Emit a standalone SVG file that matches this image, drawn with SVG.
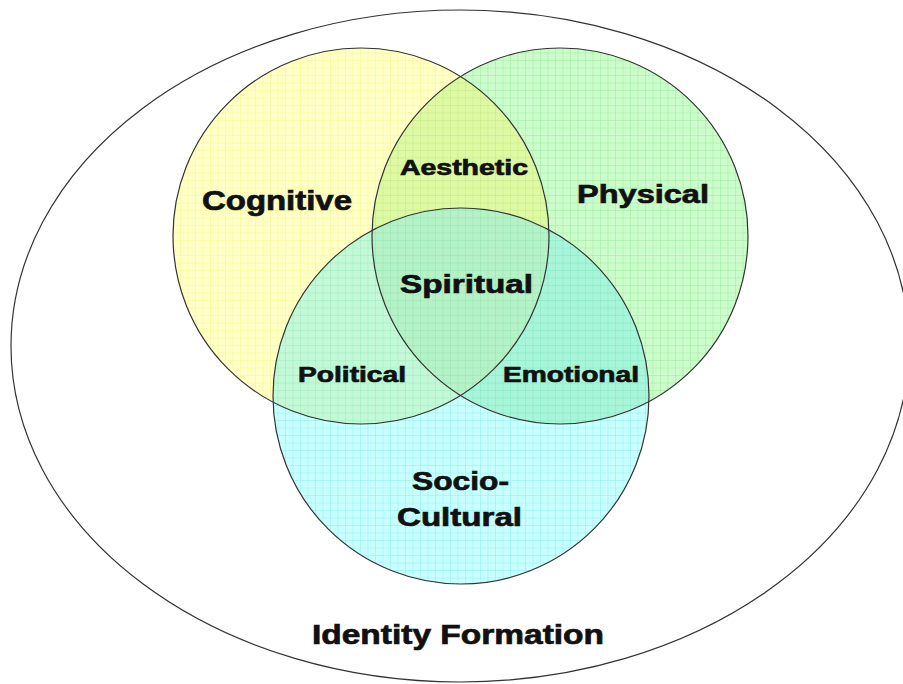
<svg xmlns="http://www.w3.org/2000/svg" width="903" height="684" viewBox="0 0 903 684">
<style>
.lbl{font-family:"Liberation Sans",Arial,sans-serif;font-weight:bold;fill:#111;stroke:#111;stroke-width:0.7}
.outline{fill:none;stroke:#333;stroke-width:1.2}
</style>
<defs>
<pattern id="pY" width="7.5" height="7.5" patternUnits="userSpaceOnUse"><rect width="7.5" height="7.5" fill="#ffffc8"/><path d="M0 0H7.5M0 0V7.5" stroke="#f8f888" stroke-width="1"/></pattern>
<pattern id="pG" width="7.5" height="7.5" patternUnits="userSpaceOnUse"><rect width="7.5" height="7.5" fill="#ccfccc"/><path d="M0 0H7.5M0 0V7.5" stroke="#9cec9c" stroke-width="1"/></pattern>
<pattern id="pC" width="7.5" height="7.5" patternUnits="userSpaceOnUse"><rect width="7.5" height="7.5" fill="#c8ffff"/><path d="M0 0H7.5M0 0V7.5" stroke="#90eef0" stroke-width="1"/></pattern>
<pattern id="pYG" width="7.5" height="7.5" patternUnits="userSpaceOnUse"><rect width="7.5" height="7.5" fill="#def9a4"/><path d="M0 0H7.5M0 0V7.5" stroke="#c2ea80" stroke-width="1"/></pattern>
<pattern id="pYC" width="7.5" height="7.5" patternUnits="userSpaceOnUse"><rect width="7.5" height="7.5" fill="#c4f9d8"/><path d="M0 0H7.5M0 0V7.5" stroke="#9aecbe" stroke-width="1"/></pattern>
<pattern id="pGC" width="7.5" height="7.5" patternUnits="userSpaceOnUse"><rect width="7.5" height="7.5" fill="#a8f5da"/><path d="M0 0H7.5M0 0V7.5" stroke="#82e8c2" stroke-width="1"/></pattern>
<pattern id="pYGC" width="7.5" height="7.5" patternUnits="userSpaceOnUse"><rect width="7.5" height="7.5" fill="#b6f2c8"/><path d="M0 0H7.5M0 0V7.5" stroke="#94e4ac" stroke-width="1"/></pattern>
<clipPath id="cY"><circle cx="361" cy="236" r="188"/></clipPath>
<clipPath id="cG"><circle cx="560" cy="236" r="188"/></clipPath>
</defs>
<rect width="903" height="684" fill="#ffffff"/>
<g id="identity-formation">
<ellipse cx="460" cy="346" rx="449" ry="336" fill="#ffffff" stroke="#333" stroke-width="1.2"/>
<text class="lbl" x="458" y="644" font-size="27" text-anchor="middle" textLength="292" lengthAdjust="spacingAndGlyphs">Identity Formation</text>
</g>
<g id="cognitive">
<circle cx="361" cy="236" r="188" fill="url(#pY)"/>
</g>
<g id="physical">
<circle cx="560" cy="236" r="188" fill="url(#pG)"/>
</g>
<g id="socio-cultural">
<circle cx="461" cy="396" r="188" fill="url(#pC)"/>
</g>
<g id="aesthetic">
<circle cx="560" cy="236" r="188" fill="url(#pYG)" clip-path="url(#cY)"/>
</g>
<g id="political">
<circle cx="461" cy="396" r="188" fill="url(#pYC)" clip-path="url(#cY)"/>
</g>
<g id="emotional">
<circle cx="461" cy="396" r="188" fill="url(#pGC)" clip-path="url(#cG)"/>
</g>
<g id="spiritual">
<g clip-path="url(#cG)"><circle cx="461" cy="396" r="188" fill="url(#pYGC)" clip-path="url(#cY)"/></g>
</g>
<g id="outlines">
<circle class="outline" cx="361" cy="236" r="188"/>
<circle class="outline" cx="560" cy="236" r="188"/>
<circle class="outline" cx="461" cy="396" r="188"/>
</g>
<g id="labels">
<text class="lbl" x="202" y="210" font-size="27" textLength="150" lengthAdjust="spacingAndGlyphs">Cognitive</text>
<text class="lbl" x="577" y="203" font-size="26" textLength="132" lengthAdjust="spacingAndGlyphs">Physical</text>
<text class="lbl" x="400" y="175" font-size="22" textLength="128" lengthAdjust="spacingAndGlyphs">Aesthetic</text>
<text class="lbl" x="400" y="293" font-size="26" textLength="133" lengthAdjust="spacingAndGlyphs">Spiritual</text>
<text class="lbl" x="298" y="382" font-size="22" textLength="108" lengthAdjust="spacingAndGlyphs">Political</text>
<text class="lbl" x="503" y="382" font-size="22" textLength="136" lengthAdjust="spacingAndGlyphs">Emotional</text>
<text class="lbl" x="412" y="490" font-size="26" textLength="97" lengthAdjust="spacingAndGlyphs">Socio-</text>
<text class="lbl" x="397" y="526" font-size="26" textLength="125" lengthAdjust="spacingAndGlyphs">Cultural</text>
</g>
</svg>
